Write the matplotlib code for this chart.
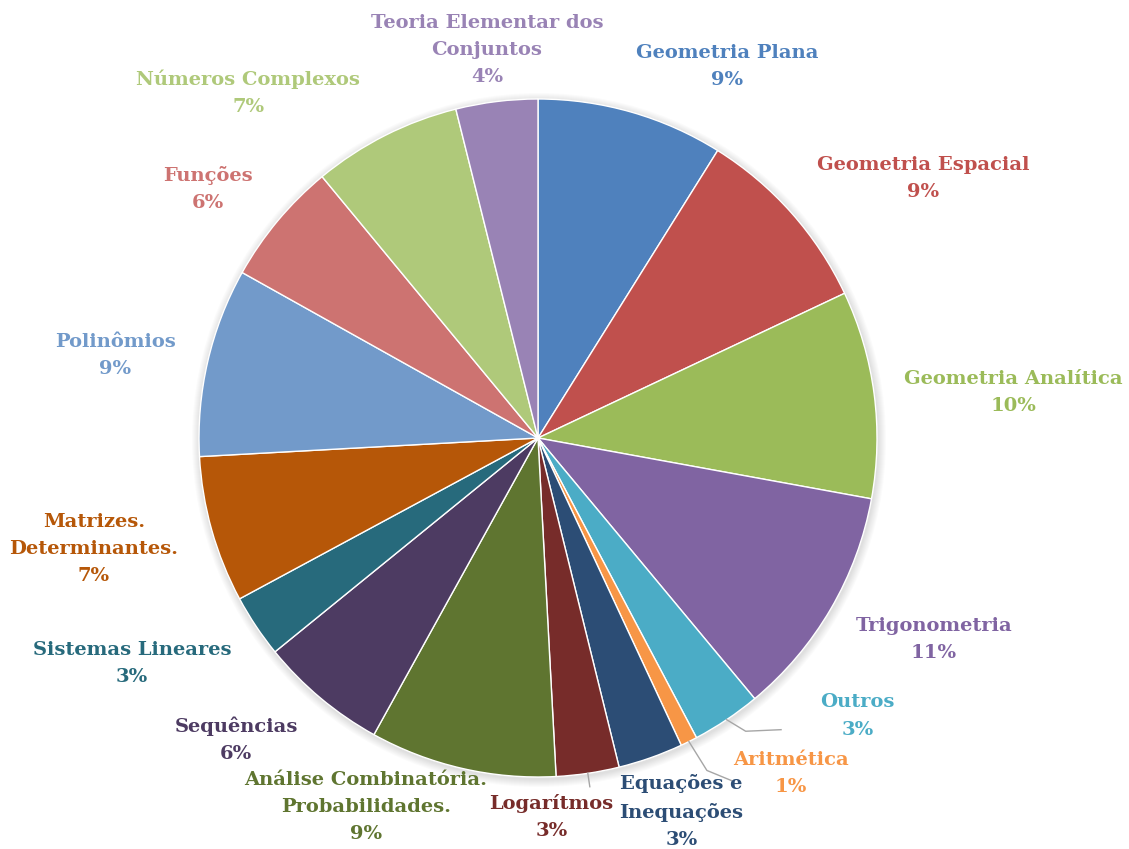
import numpy as np
import matplotlib
matplotlib.use("Agg")
import matplotlib.pyplot as plt
from matplotlib.patches import Circle

# data (share of questions per topic)
topics = ["Geometria Plana", "Geometria Espacial", "Geometria Analítica",
          "Trigonometria", "Outros", "Aritmética", "Equações e\nInequações",
          "Logarítmos", "Análise Combinatória.\nProbabilidades.", "Sequências",
          "Sistemas Lineares", "Matrizes.\nDeterminantes.", "Polinômios",
          "Funções", "Números Complexos", "Teoria Elementar dos\nConjuntos"]
shares = [8.9, 9.1, 9.9, 11.1, 3.3, 0.8, 3.1, 3.0, 8.9, 6.1, 3.0, 7.0, 9.0, 5.9, 7.1, 3.9]
colors = ["#4F81BD", "#C0504D", "#9BBB59", "#8064A2", "#4BACC6", "#F79646",
          "#2C4D75", "#772C2A", "#5F7530", "#4D3B62", "#276A7C", "#B65708",
          "#729ACA", "#CD7371", "#AFC97A", "#9983B5"]

# label layout: (distance in radii, angle clockwise from 12 o'clock)
label_pos = [(1.23, 27), (1.37, 56), (1.41, 84.5), (1.31, 117), (1.25, 131),
             (1.24, 143), (1.18, 159), (1.12, 178), (1.20, 205), (1.26, 225),
             (1.37, 241), (1.35, 256), (1.27, 281), (1.22, 307), (1.33, 320),
             (1.155, -7.5)]
leaders = {"Outros": [(1.0, 0), (1.06, 1.5), (1.12, 6)],
           "Aritmética": [(1.0, 0), (1.1, 0.5), (1.16, 3)],
           "Logarítmos": [(1.0, 0), (1.04, 0)]}

W, H = 1129, 849
cx, cy, R = 538, H - 438, 339

fig = plt.figure(figsize=(W / 100, H / 100), dpi=100)
ax = fig.add_axes([0, 0, 1, 1])

# soft shadow behind the pie
for k in range(8):
    ax.add_patch(Circle((cx + 1, cy - 2), R + 1 + k, color="black",
                        alpha=0.015, lw=0, zorder=0))

wedges, _ = ax.pie(shares, colors=colors, startangle=90, counterclock=False,
                   center=(cx, cy), radius=R,
                   wedgeprops=dict(edgecolor="white", linewidth=1.0))


def polar(r, ang):
    a = np.deg2rad(ang)
    return cx + r * R * np.sin(a), cy + r * R * np.cos(a)


for w, name, val, col, (r, ang) in zip(wedges, topics, shares, colors, label_pos):
    x, y = polar(r, ang)
    ax.text(x, y, f"{name}\n{val:.0f}%", color=col, ha="center", va="center",
            fontsize=14, fontweight="bold", family="DejaVu Serif",
            linespacing=1.65, zorder=5)
    if name in leaders:
        mid = 90 - (w.theta1 + w.theta2) / 2  # clockwise from top
        pts = [polar(rr, mid - d) for rr, d in leaders[name]]
        xs, ys = zip(*pts)
        ax.plot(xs, ys, color="#A6A6A6", lw=1, zorder=4)

ax.set_xlim(0, W)
ax.set_ylim(0, H)
ax.set_aspect("equal")
ax.axis("off")

fig.savefig("out.png", dpi=100, facecolor="white")
